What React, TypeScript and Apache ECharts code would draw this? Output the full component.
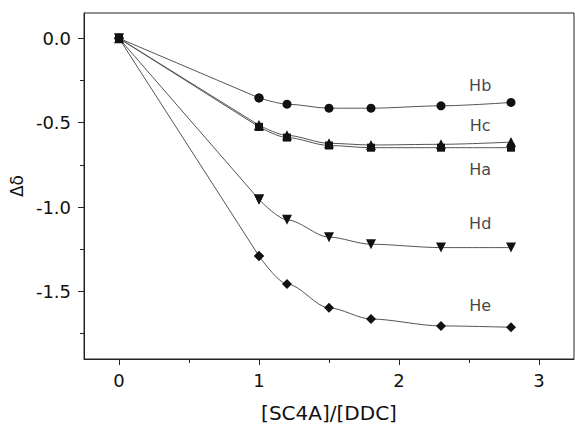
import React, { useEffect, useRef } from "react";
import * as echarts from "echarts";

const xValues = [0, 1, 1.2, 1.5, 1.8, 2.3, 2.8];
const hb = [0, -0.353, -0.39, -0.414, -0.414, -0.4, -0.38];
const hc = [0, -0.515, -0.575, -0.622, -0.632, -0.628, -0.615];
const ha = [0, -0.525, -0.588, -0.635, -0.648, -0.648, -0.648];
const hd = [0, -0.955, -1.075, -1.178, -1.22, -1.24, -1.24];
const he = [0, -1.29, -1.455, -1.597, -1.663, -1.704, -1.712];

const seriesNames = ["Hb", "Hc", "Ha", "Hd", "He"];
const seriesSymbols = ["circle", "triangle", "rect", "triangle", "diamond"];
const seriesRotate = [0, 0, 0, 180, 0];
const seriesSizes = [9, 10, 8, 10, 10];
const labelX = [2.58, 2.58, 2.58, 2.58, 2.58];
const labelY = [-0.28, -0.515, -0.78, -1.1, -1.585];

const xMajor = [0, 1, 2, 3];
const xMinor = [0.5, 1.5, 2.5];
const yMajor = [0, -0.5, -1.0, -1.5];
const yMinor = [-0.25, -0.75, -1.25, -1.75];

const FONT = "DejaVu Sans, Liberation Sans, Arial, sans-serif";

export default function App() {
  const ref = useRef<HTMLDivElement>(null);
  useEffect(() => {
    if (!ref.current) return;
    const chart = echarts.init(ref.current, null, { renderer: "svg" });
    const all = [hb, hc, ha, hd, he];
    const series: any[] = [];
    all.forEach((vals, i) => {
      const pts = xValues.map((x, j) => [x, vals[j]]);
      // initial straight rise from the origin to the first titration point
      series.push({
        type: "line",
        name: seriesNames[i] + "-start",
        data: pts.slice(0, 2),
        smooth: false,
        symbol: seriesSymbols[i],
        symbolRotate: seriesRotate[i],
        symbolSize: seriesSizes[i],
        lineStyle: { color: "#555", width: 1 },
        itemStyle: { color: "#111" },
        z: 3,
      });
      // fitted curve through the remaining points
      series.push({
        type: "line",
        name: seriesNames[i],
        data: pts.slice(1),
        smooth: 0.3,
        smoothMonotone: "x",
        symbol: seriesSymbols[i],
        symbolRotate: seriesRotate[i],
        symbolSize: seriesSizes[i],
        lineStyle: { color: "#555", width: 1 },
        itemStyle: { color: "#111" },
        z: 3,
      });
    });
    series.push({
      type: "scatter",
      symbolSize: 0,
      data: seriesNames.map((n, i) => ({ name: n, value: [labelX[i], labelY[i]] })),
      label: {
        show: true,
        position: "inside",
        formatter: "{b}",
        color: "#111",
        fontSize: 16,
        fontFamily: FONT,
      },
      z: 4,
    });
    const xBase = {
      type: "value",
      min: -0.25,
      max: 3.25,
      gridIndex: 0,
      splitLine: { show: false },
    };
    const yBase = {
      type: "value",
      min: -1.9,
      max: 0.15,
      gridIndex: 0,
      splitLine: { show: false },
    };
    chart.setOption({
      animation: false,
      backgroundColor: "#fff",
      grid: {
        left: 81,
        top: 13,
        width: 493,
        height: 349,
        show: true,
        borderColor: "#222",
        borderWidth: 1,
        backgroundColor: "transparent",
      },
      xAxis: [
        {
          ...xBase,
          position: "bottom",
          name: "[SC4A]/[DDC]",
          nameLocation: "middle",
          nameGap: 44,
          nameTextStyle: { fontSize: 20, color: "#111", fontFamily: FONT },
          axisLine: { show: true, onZero: false, lineStyle: { color: "#222", width: 1 } },
          axisTick: { show: true, inside: false, length: 6, customValues: xMajor, lineStyle: { color: "#222" } },
          axisLabel: {
            show: true,
            customValues: xMajor,
            margin: 12,
            fontSize: 18,
            color: "#111",
            fontFamily: FONT,
            formatter: (v: number) => String(Math.round(v)),
          },
        },
        {
          ...xBase,
          position: "bottom",
          axisLine: { show: false, onZero: false },
          axisTick: { show: true, inside: false, length: 4, customValues: xMinor, lineStyle: { color: "#222" } },
          axisLabel: { show: false },
        },
      ],
      yAxis: [
        {
          ...yBase,
          position: "left",
          name: "Δδ",
          nameLocation: "middle",
          nameGap: 57,
          nameRotate: 90,
          nameTextStyle: { fontSize: 17, color: "#111", fontFamily: FONT },
          axisLine: { show: true, onZero: false, lineStyle: { color: "#222", width: 1 } },
          axisTick: { show: true, inside: false, length: 6, customValues: yMajor, lineStyle: { color: "#222" } },
          axisLabel: {
            show: true,
            customValues: yMajor,
            margin: 13,
            fontSize: 18,
            color: "#111",
            fontFamily: FONT,
            formatter: (v: number) => (Math.abs(v) < 1e-9 ? "0.0" : v.toFixed(1)),
          },
        },
        {
          ...yBase,
          position: "left",
          axisLine: { show: false, onZero: false },
          axisTick: { show: true, inside: false, length: 4, customValues: yMinor, lineStyle: { color: "#222" } },
          axisLabel: { show: false },
        },
      ],
      series,
    });
    return () => chart.dispose();
  }, []);
  return (
    <div
      ref={ref}
      style={{ position: "fixed", left: 0, top: 0, width: 575, height: 428 }}
    />
  );
}
